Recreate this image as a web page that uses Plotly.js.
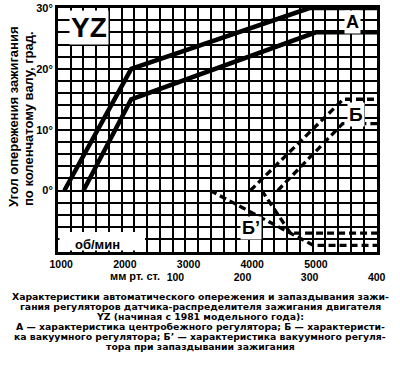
<!DOCTYPE html>
<html>
<head>
<meta charset="utf-8">
<script src="https://cdn.plot.ly/plotly-3.0.1.min.js"></script>
<style>html,body{margin:0;padding:0;background:#fff;}#chart{width:400px;height:365px;}</style>
</head>
<body>
<div id="chart"></div>
<script>
// ---- data ----
// Curve A (centrifugal regulator): rpm vs degrees
const rpmA1 = [1050, 2100, 4900, 5960];
const degA1 = [0, 20, 30, 30];
const rpmA2 = [1350, 2100, 5000, 5960];
const degA2 = [0, 15, 26, 26];
// Curve Б (vacuum regulator), plotted on the rpm-aligned axis
const rpmB1 = [3970, 5430, 5960];
const degB1 = [0, 15, 15];
const rpmB2 = [4400, 5420, 5960];
const degB2 = [0, 11, 11];
// Curve Б' (vacuum regulator, retard)
const rpmBp1 = [3340, 4960, 5960];
const degBp1 = [0, -9, -9];
const rpmBp2 = [4150, 4600, 5960];
const degBp2 = [0, -7, -7];
// tick labels
const rpmTicks = [1000, 2000, 3000, 4000, 5000];
const rpmTickText = ['1000', '2000', '3000', '4000', '5000'];
const vacTicks = [100, 200, 300, 400];
const vacTickText = ['100', '200', '300', '400'];
const degTicks = [0, 10, 20, 30];
const degTickText = ['0°', '10°', '20°', '30°'];
const yTitle1 = 'Угол опережения зажигания';
const yTitle2 = 'по коленчатому валу, град.';
const caption = [
  'Характеристики автоматического опережения и запаздывания зажи-',
  'гания регуляторов датчика-распределителя зажигания двигателя',
  'YZ (начиная с 1981 модельного года):',
  'А — характеристика центробежного регулятора; Б — характеристи-',
  'ка вакуумного регулятора; Б’ — характеристика вакуумного регуля-',
  'тора при запаздывании зажигания'
];

// ---- layout helpers (pixel -> paper) ----
const L = 58, R = 23, T = 8, B = 113, W = 400, H = 365;
const PW = W - L - R, PH = H - T - B;
const px = x => (x - L) / PW;
const py = y => (H - B - y) / PH;
const FAM = '"Liberation Sans", Arial, sans-serif';
const CAPFAM = '"DejaVu Sans", "Liberation Sans", sans-serif';

const solid = {color: '#000', width: 4.5};
const dashed = {color: '#000', width: 3.3, dash: '7px,4px'};
const traces = [
  {x: rpmA1, y: degA1, mode: 'lines', line: solid},
  {x: rpmA2, y: degA2, mode: 'lines', line: solid},
  {x: rpmB1, y: degB1, mode: 'lines', line: dashed},
  {x: rpmB2, y: degB2, mode: 'lines', line: dashed},
  {x: rpmBp1, y: degBp1, mode: 'lines', line: dashed},
  {x: rpmBp2, y: degBp2, mode: 'lines', line: dashed},
  {x: vacTicks, y: [null, null, null, null], xaxis: 'x2', mode: 'lines'}
].map(t => Object.assign({showlegend: false, hoverinfo: 'skip'}, t));

const annotations = [
  {text: '<b>YZ</b>', x: px(89), y: py(27), size: 28, bg: true},
  {text: '<b>А</b>', x: px(352), y: py(22), size: 18, bg: true},
  {text: '<b>Б</b>', x: px(356), y: py(114), size: 19, bg: true},
  {text: '<b>Б’</b>', x: px(251), y: py(228), size: 18, bg: true},
  {text: '<b>об/мин</b>', x: px(97), y: py(244), size: 13, bg: false},
  {text: '<b>мм рт. ст.</b>', x: px(135), y: py(276), size: 11, bg: false}
].map(a => ({
  text: a.text, xref: 'paper', yref: 'paper', x: a.x, y: a.y,
  xanchor: 'center', yanchor: 'middle', showarrow: false,
  font: {family: FAM, size: a.size, color: '#000'},
  bgcolor: a.bg ? '#fff' : 'rgba(0,0,0,0)', borderpad: 1
}));

annotations.push(
  {text: '<b>' + yTitle1 + '</b>', xref: 'paper', yref: 'paper', x: px(13), y: py(117),
   textangle: -90, showarrow: false, xanchor: 'center', yanchor: 'middle',
   font: {family: FAM, size: 13, color: '#000'}},
  {text: '<b>' + yTitle2 + '</b>', xref: 'paper', yref: 'paper', x: px(28), y: py(119),
   textangle: -90, showarrow: false, xanchor: 'center', yanchor: 'middle',
   font: {family: FAM, size: 13, color: '#000'}}
);
const capY = [296, 306, 316, 326, 336, 346];
caption.forEach((line, i) => {
  annotations.push({text: '<b>' + line + '</b>', xref: 'paper', yref: 'paper',
    x: px(200), y: py(capY[i]), xanchor: 'center', yanchor: 'middle', showarrow: false,
    font: {family: CAPFAM, size: 9.3, color: '#000'}, borderpad: 0});
});

const layout = {
  width: W, height: H,
  margin: {l: L, r: R, t: T, b: B, pad: 0},
  paper_bgcolor: '#fff', plot_bgcolor: '#fff',
  showlegend: false,
  xaxis: {
    range: [950, 5960], tickmode: 'array', tickvals: rpmTicks, ticktext: rpmTickText,
    showgrid: false, zeroline: false, ticks: '',
    showline: true, mirror: true, linewidth: 3, linecolor: '#000',
    tickfont: {family: FAM, size: 10.5, color: '#000', weight: 'bold'},
    minor: {tickmode: 'linear', tick0: 950, dtick: 200, showgrid: true, gridcolor: '#000', gridwidth: 2, ticks: ''}
  },
  xaxis2: {
    overlaying: 'x', anchor: 'y', side: 'bottom', range: [-75, 400.5],
    tickmode: 'array', tickvals: vacTicks, ticktext: vacTickText,
    showgrid: false, zeroline: false, ticks: '', showline: false,
    ticklabelstandoff: 17,
    tickfont: {family: FAM, size: 10.5, color: '#000', weight: 'bold'}
  },
  yaxis: {
    range: [-10.1, 30], tickmode: 'array', tickvals: degTicks, ticktext: degTickText,
    showgrid: true, gridcolor: '#000', gridwidth: 2, zeroline: false, ticks: '',
    showline: true, mirror: true, linewidth: 3, linecolor: '#000',
    tickfont: {family: FAM, size: 11, color: '#000', weight: 'bold'},
    minor: {tickmode: 'linear', tick0: 0, dtick: 2, showgrid: true, gridcolor: '#000', gridwidth: 2, ticks: ''}
  },
  shapes: [
    {type: 'rect', xref: 'paper', yref: 'paper', x0: px(59.5), x1: px(145), y0: py(250.5), y1: py(232),
     fillcolor: '#fff', line: {width: 0}, layer: 'above'}
  ],
  annotations: annotations
};

Plotly.newPlot('chart', traces, layout, {displayModeBar: false, staticPlot: true});
</script>
</body>
</html>
